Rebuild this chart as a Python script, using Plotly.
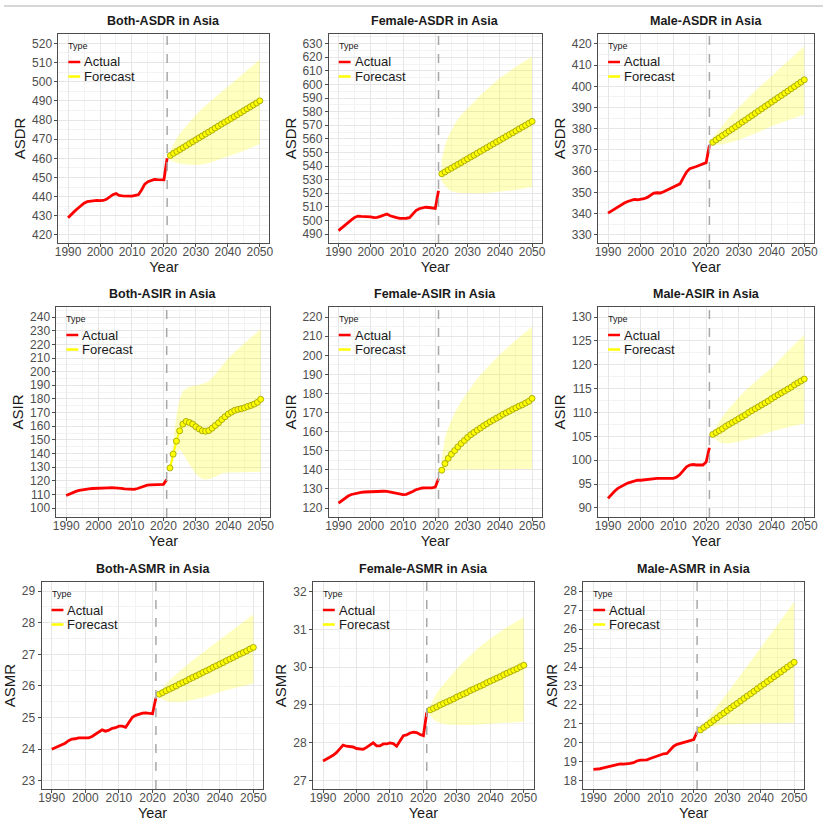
import plotly.graph_objects as go

# years
actual_years = list(range(1990, 2022))
forecast_years = list(range(2022, 2051))
band_years = [2022, 2023, 2024, 2025, 2026, 2028, 2030, 2032, 2034, 2036, 2038, 2040, 2045, 2050]
cutoff_year = 2021
legend_labels = ["Actual", "Forecast"]

# ---- ASDR ----
both_asdr_actual = [429.0, 430.8, 432.3, 433.8, 435.3, 436.6, 437.4, 437.6, 437.9, 438.0, 437.9, 438.0,
                    438.6, 440.0, 441.0, 441.6, 440.6, 440.4, 440.4, 440.2, 440.3, 440.7, 441.0, 443.5,
                    446.5, 447.8, 448.5, 449.0, 448.9, 448.8, 448.8, 460.0]
both_asdr_fc = [461.5, 462.6, 463.6, 464.6, 465.6, 466.6, 467.7, 468.7, 469.7, 470.7, 471.7, 472.7,
                473.7, 474.7, 475.8, 476.8, 477.8, 478.8, 479.8, 480.8, 481.8, 482.8, 483.8, 484.9,
                485.9, 486.9, 487.9, 488.9, 490.0]
both_asdr_hi = [464.0, 467.5, 470.5, 473.0, 475.0, 479.0, 482.6, 486.0, 489.0, 492.0, 494.8, 497.4, 504.5, 511.6]
both_asdr_lo = [459.0, 458.2, 457.7, 457.3, 457.0, 456.6, 456.5, 456.8, 457.5, 458.5, 459.7, 460.9, 464.0, 467.5]

female_asdr_actual = [492.5, 494.6, 496.6, 498.5, 500.4, 502.2, 503.2, 503.0, 502.9, 503.0, 502.6, 502.0,
                      502.2, 503.0, 504.0, 504.7, 503.4, 502.5, 502.0, 501.5, 501.4, 501.6, 502.0, 504.8,
                      507.2, 508.6, 509.4, 509.7, 509.5, 509.0, 508.8, 521.8]
female_asdr_fc = [534.3, 535.7, 537.1, 538.4, 539.8, 541.2, 542.5, 543.9, 545.3, 546.7, 548.0, 549.4,
                  550.8, 552.2, 553.5, 554.9, 556.3, 557.7, 559.0, 560.4, 561.8, 563.2, 564.5, 565.9,
                  567.3, 568.7, 570.0, 571.4, 572.8]
female_asdr_hi = [544.6, 555.0, 561.5, 566.7, 571.0, 577.5, 582.6, 587.5, 592.0, 596.5, 600.8, 604.7, 613.0, 620.6]
female_asdr_lo = [528.7, 525.5, 523.0, 521.6, 520.8, 520.2, 520.0, 519.9, 520.0, 520.2, 520.6, 521.0, 522.5, 524.5]

male_asdr_actual = [340.2, 341.2, 342.3, 343.3, 344.2, 345.0, 345.7, 346.3, 346.7, 346.5, 346.6, 347.0,
                    347.6, 348.8, 349.6, 349.8, 349.7, 350.3, 351.0, 351.7, 352.4, 353.2, 354.0, 356.8,
                    359.6, 361.2, 361.6, 362.2, 362.8, 363.3, 364.0, 372.2]
male_asdr_fc = [373.6, 374.7, 375.7, 376.8, 377.8, 378.9, 379.9, 381.0, 382.0, 383.1, 384.1, 385.2,
                386.2, 387.3, 388.4, 389.4, 390.5, 391.5, 392.6, 393.6, 394.7, 395.7, 396.8, 397.8,
                398.9, 399.9, 401.0, 402.0, 403.1]
male_asdr_hi = [375.8, 377.8, 379.8, 381.7, 383.5, 387.0, 390.3, 393.4, 396.4, 399.3, 402.1, 404.8, 411.9, 418.9]
male_asdr_lo = [372.5, 372.4, 372.5, 372.7, 373.0, 373.8, 374.8, 375.9, 377.1, 378.4, 379.8, 381.2, 384.0, 386.7]

# ---- ASIR ----
both_asir_actual = [109.2, 110.3, 111.3, 112.2, 112.9, 113.4, 113.8, 114.1, 114.3, 114.5, 114.6, 114.7,
                    114.7, 114.8, 114.9, 114.9, 114.7, 114.4, 114.0, 113.7, 113.5, 113.6, 114.3, 115.3,
                    116.2, 116.7, 116.9, 117.0, 117.0, 116.9, 117.3, 120.8]
both_asir_fc = [129.4, 139.5, 149.0, 156.6, 161.5, 163.5, 162.7, 161.5, 159.6, 158.0, 156.6, 156.3,
                156.8, 158.5, 160.5, 162.5, 164.9, 166.9, 168.9, 170.3, 171.6, 172.3, 172.8, 173.5,
                174.5, 175.2, 176.2, 177.5, 179.7]
both_asir_hi = [131.0, 150.0, 168.0, 180.0, 186.0, 189.0, 190.0, 191.0, 193.0, 198.0, 204.0, 210.0, 221.0, 231.0]
both_asir_lo = [128.0, 134.0, 140.0, 143.0, 140.0, 132.0, 125.0, 121.0, 121.0, 123.0, 125.5, 126.0, 126.5, 126.5]

female_asir_actual = [122.6, 124.0, 125.3, 126.3, 127.1, 127.6, 128.0, 128.2, 128.4, 128.5, 128.6, 128.6,
                      128.7, 128.8, 128.8, 128.7, 128.4, 128.1, 127.7, 127.2, 127.0, 127.2, 127.8, 128.7,
                      129.6, 130.2, 130.5, 130.6, 130.6, 130.6, 131.0, 135.4]
female_asir_fc = [139.8, 143.3, 146.0, 148.2, 150.1, 152.0, 153.8, 155.4, 157.0, 158.4, 159.6, 160.8,
                  161.9, 163.1, 164.1, 165.2, 166.1, 167.1, 168.0, 169.1, 169.9, 170.8, 171.7, 172.5,
                  173.4, 174.1, 175.0, 175.9, 177.4]
female_asir_hi = [146.0, 157.0, 162.0, 166.0, 169.8, 175.8, 181.0, 185.5, 189.7, 193.5, 197.0, 200.4, 208.0, 215.0]
female_asir_lo = [139.3, 139.8, 140.0, 140.0, 140.1, 140.2, 140.2, 140.2, 140.3, 140.3, 140.3, 140.3, 140.4, 140.4]

male_asir_actual = [92.0, 92.8, 93.5, 94.1, 94.5, 94.9, 95.2, 95.4, 95.6, 95.8, 95.8, 95.9,
                    96.0, 96.1, 96.1, 96.2, 96.2, 96.2, 96.2, 96.2, 96.2, 96.5, 97.0, 97.8,
                    98.6, 99.0, 99.1, 99.0, 99.0, 99.0, 99.6, 102.6]
male_asir_fc = [105.4, 105.8, 106.2, 106.6, 107.1, 107.5, 107.9, 108.3, 108.7, 109.1, 109.5, 110.0,
                110.4, 110.8, 111.2, 111.6, 112.0, 112.4, 112.9, 113.3, 113.7, 114.1, 114.5, 114.9,
                115.3, 115.8, 116.2, 116.6, 117.0]
male_asir_hi = [105.8, 107.0, 108.1, 109.1, 110.0, 111.7, 113.2, 114.6, 115.9, 117.0, 118.2, 119.3, 122.9, 126.3]
male_asir_lo = [104.8, 104.2, 103.8, 103.6, 103.5, 103.6, 103.9, 104.2, 104.6, 105.0, 105.5, 106.0, 106.9, 107.7]

# ---- ASMR ----
both_asmr_actual = [24.00, 24.05, 24.09, 24.13, 24.19, 24.27, 24.32, 24.33, 24.36, 24.36, 24.35, 24.36,
                    24.40, 24.47, 24.55, 24.61, 24.57, 24.60, 24.66, 24.68, 24.73, 24.73, 24.69, 24.85,
                    25.01, 25.07, 25.11, 25.14, 25.15, 25.14, 25.12, 25.63]
both_asmr_fc = [25.74, 25.79, 25.85, 25.90, 25.95, 26.00, 26.06, 26.11, 26.16, 26.22, 26.27, 26.32,
                26.37, 26.43, 26.48, 26.53, 26.59, 26.64, 26.69, 26.74, 26.80, 26.85, 26.90, 26.96,
                27.01, 27.06, 27.11, 27.17, 27.22]
both_asmr_hi = [25.82, 25.95, 26.07, 26.18, 26.28, 26.47, 26.65, 26.82, 26.98, 27.14, 27.30, 27.46, 27.87, 28.27]
both_asmr_lo = [25.62, 25.57, 25.53, 25.50, 25.49, 25.49, 25.52, 25.56, 25.61, 25.67, 25.74, 25.81, 25.95, 26.08]

female_asmr_actual = [27.52, 27.58, 27.62, 27.67, 27.74, 27.84, 27.94, 27.91, 27.90, 27.89, 27.85, 27.83,
                      27.83, 27.88, 27.94, 28.00, 27.92, 27.92, 27.97, 27.97, 28.00, 27.98, 27.91, 28.05,
                      28.19, 28.21, 28.26, 28.28, 28.27, 28.22, 28.19, 28.80]
female_asmr_fc = [28.87, 28.91, 28.95, 29.00, 29.04, 29.08, 29.12, 29.16, 29.21, 29.25, 29.29, 29.33,
                  29.38, 29.42, 29.46, 29.50, 29.54, 29.59, 29.63, 29.67, 29.71, 29.75, 29.80, 29.84,
                  29.88, 29.92, 29.96, 30.01, 30.05]
female_asmr_hi = [28.98, 29.17, 29.32, 29.44, 29.55, 29.76, 29.96, 30.14, 30.31, 30.47, 30.62, 30.76, 31.06, 31.32]
female_asmr_lo = [28.72, 28.62, 28.56, 28.52, 28.50, 28.48, 28.47, 28.47, 28.47, 28.48, 28.49, 28.50, 28.53, 28.56]

male_asmr_actual = [18.60, 18.60, 18.63, 18.67, 18.71, 18.75, 18.80, 18.85, 18.88, 18.87, 18.88, 18.91,
                    18.95, 19.04, 19.08, 19.10, 19.10, 19.17, 19.24, 19.30, 19.37, 19.42, 19.44, 19.63,
                    19.82, 19.92, 19.97, 20.02, 20.07, 20.12, 20.17, 20.58]
male_asmr_fc = [20.68, 20.81, 20.93, 21.06, 21.19, 21.32, 21.45, 21.57, 21.70, 21.83, 21.96, 22.08,
                22.21, 22.34, 22.47, 22.59, 22.72, 22.85, 22.98, 23.10, 23.23, 23.36, 23.49, 23.61,
                23.74, 23.87, 24.00, 24.12, 24.25]
male_asmr_hi = [20.80, 21.02, 21.25, 21.48, 21.71, 22.17, 22.63, 23.10, 23.57, 24.05, 24.53, 25.00, 26.22, 27.44]
male_asmr_lo = [20.62, 20.72, 20.80, 20.86, 20.90, 20.95, 20.97, 20.99, 21.00, 21.01, 21.02, 21.02, 21.03, 21.04]

# title, y label, series, y range, y tick step, box in pixels (left, right, top, bottom)
panels = [
    ("Both-ASDR in Asia", "ASDR", both_asdr_actual, both_asdr_fc, both_asdr_lo, both_asdr_hi, [415.8, 524.9], 10, (55, 268, 34, 243)),
    ("Female-ASDR in Asia", "ASDR", female_asdr_actual, female_asdr_fc, female_asdr_lo, female_asdr_hi, [483.4, 637.1], 10, (328, 543, 34, 243)),
    ("Male-ASDR in Asia", "ASDR", male_asdr_actual, male_asdr_fc, male_asdr_lo, male_asdr_hi, [326.1, 424.7], 10, (600, 818, 34, 243)),
    ("Both-ASIR in Asia", "ASIR", both_asir_actual, both_asir_fc, both_asir_lo, both_asir_hi, [93.4, 247.4], 10, (53, 269, 307, 517)),
    ("Female-ASIR in Asia", "ASIR", female_asir_actual, female_asir_fc, female_asir_lo, female_asir_hi, [115.3, 225.3], 10, (328, 543, 307, 517)),
    ("Male-ASIR in Asia", "ASIR", male_asir_actual, male_asir_fc, male_asir_lo, male_asir_hi, [88.1, 132.1], 5, (600, 818, 307, 517)),
    ("Both-ASMR in Asia", "ASMR", both_asmr_actual, both_asmr_fc, both_asmr_lo, both_asmr_hi, [22.74, 29.29], 1, (38, 262, 582, 789)),
    ("Female-ASMR in Asia", "ASMR", female_asmr_actual, female_asmr_fc, female_asmr_lo, female_asmr_hi, [26.78, 32.25], 1, (312, 535, 582, 789)),
    ("Male-ASMR in Asia", "ASMR", male_asmr_actual, male_asmr_fc, male_asmr_lo, male_asmr_hi, [17.56, 28.49], 1, (585, 808, 582, 789)),
]

W, H = 827, 831
FONT = "Liberation Sans, Arial, sans-serif"
RED = "#FF0000"
YELLOW = "#FFFF00"
key_colors = [RED, YELLOW]

fig = go.Figure()
layout = {}
annotations = []
shapes = [dict(type="line", xref="paper", yref="paper", x0=0, x1=1, y0=1 - 6 / H, y1=1 - 6 / H,
               line=dict(color="#C8C8C8", width=1.5))]

for i, (title, ylab, act, fc, lo, hi, yr, dt, box) in enumerate(panels):
    n = i + 1
    sfx = "" if n == 1 else str(n)
    xa, ya = "x" + sfx, "y" + sfx
    left, right, top, bottom = box

    # forecast band
    fig.add_trace(go.Scatter(x=band_years, y=lo, xaxis=xa, yaxis=ya, mode="lines",
                             line=dict(width=0), showlegend=False, hoverinfo="skip"))
    fig.add_trace(go.Scatter(x=band_years, y=hi, xaxis=xa, yaxis=ya, mode="lines",
                             line=dict(width=0), fill="tonexty", fillcolor="rgba(255,255,0,0.25)",
                             showlegend=False, hoverinfo="skip"))
    fig.add_trace(go.Scatter(x=actual_years, y=act, xaxis=xa, yaxis=ya, mode="lines", name="Actual",
                             line=dict(color=RED, width=2.8), showlegend=False))
    fig.add_trace(go.Scatter(x=forecast_years, y=fc, xaxis=xa, yaxis=ya, mode="lines+markers",
                             name="Forecast", line=dict(color=YELLOW, width=2),
                             marker=dict(size=6, color=YELLOW, line=dict(color="#9A9A00", width=0.8)),
                             showlegend=False))

    layout["xaxis" + sfx] = dict(
        domain=[left / W, right / W], anchor=ya, range=[1987, 2053], tick0=1990, dtick=10,
        showgrid=True, gridcolor="#E6E6E6", gridwidth=1,
        minor=dict(dtick=5, tick0=1990, showgrid=True, gridcolor="#F3F3F3", gridwidth=0.6),
        showline=True, mirror=True, linecolor="#4D4D4D", linewidth=1,
        ticks="outside", ticklen=3, tickcolor="#4D4D4D", zeroline=False, ticklabelstandoff=-5,
        tickfont=dict(family=FONT, size=12, color="#4D4D4D"),
        title=dict(text="Year", font=dict(family=FONT, size=14.5, color="#1A1A1A"), standoff=3),
    )
    layout["yaxis" + sfx] = dict(
        domain=[1 - bottom / H, 1 - top / H], anchor=xa, range=yr, dtick=dt, tick0=0,
        showgrid=True, gridcolor="#E6E6E6", gridwidth=1,
        minor=dict(dtick=dt / 2, tick0=0, showgrid=True, gridcolor="#F3F3F3", gridwidth=0.6),
        showline=True, mirror=True, linecolor="#4D4D4D", linewidth=1,
        ticks="outside", ticklen=3, tickcolor="#4D4D4D", zeroline=False,
        tickfont=dict(family=FONT, size=12, color="#4D4D4D"),
        title=dict(text=ylab, font=dict(family=FONT, size=15, color="#1A1A1A"), standoff=2),
    )

    annotations.append(dict(text="<b>" + title + "</b>", xref=xa + " domain", yref=ya + " domain",
                            x=0.5, y=1, xanchor="center", yanchor="bottom", yshift=4, showarrow=False,
                            font=dict(family=FONT, size=12.5, color="#1A1A1A")))
    shapes.append(dict(type="line", xref=xa, yref=ya + " domain", x0=cutoff_year, x1=cutoff_year,
                       y0=0, y1=1, line=dict(color="#A8A8A8", width=1.5, dash="dash")))

    # ggplot-style legend box in the top-left corner of the panel
    annotations.append(dict(text="Type", xref="paper", yref="paper", x=(left + 8) / W,
                            y=1 - (top + 12) / H, xanchor="left", yanchor="middle", showarrow=False,
                            font=dict(family=FONT, size=9, color="#1A1A1A")))
    for k, (lab, col) in enumerate(zip(legend_labels, key_colors)):
        ky = 1 - (top + 28 + 14.5 * k) / H
        shapes.append(dict(type="line", xref="paper", yref="paper", x0=(left + 10) / W,
                           x1=(left + 22) / W, y0=ky, y1=ky, line=dict(color=col, width=2.5)))
        annotations.append(dict(text=lab, xref="paper", yref="paper", x=(left + 24) / W, y=ky,
                                xanchor="left", yanchor="middle", showarrow=False,
                                font=dict(family=FONT, size=13, color="#1A1A1A")))

fig.update_layout(
    width=W, height=H, margin=dict(l=0, r=0, t=0, b=0),
    paper_bgcolor="white", plot_bgcolor="white", showlegend=False,
    font=dict(family=FONT), annotations=annotations, shapes=shapes,
    **layout,
)

# page body has an 8px default margin; remove it so the figure sits at the window corner
fig.write_html("out.html", config={"displayModeBar": False},
               post_script="document.body.style.margin='0';")
